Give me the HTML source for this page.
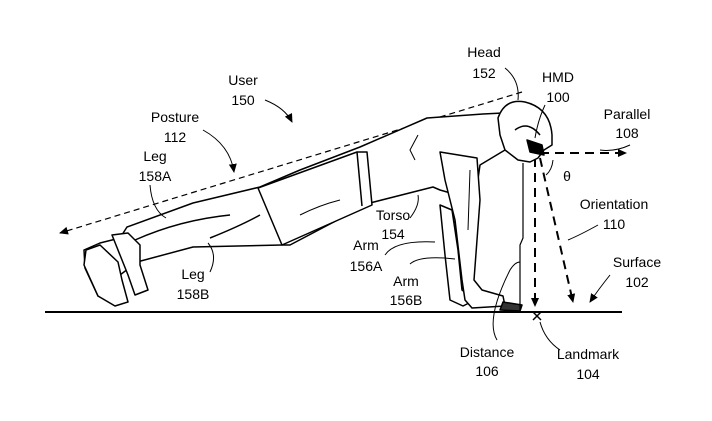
<!DOCTYPE html>
<html><head><meta charset="utf-8"><style>
html,body{margin:0;padding:0;background:#fff;}
svg{display:block;}
text{font-family:"Liberation Sans",sans-serif;font-size:14px;fill:#000;text-anchor:middle;}
</style></head><body>
<svg width="712" height="421" viewBox="0 0 712 421" xmlns="http://www.w3.org/2000/svg">
<defs>
<marker id="a" markerWidth="10" markerHeight="10" refX="8" refY="5" orient="auto" markerUnits="userSpaceOnUse"><path d="M0,1 L9,5 L0,9 z" fill="#000"/></marker>
</defs>
<line x1="45" y1="312" x2="622" y2="312" stroke="#000" stroke-width="2"/>
<line x1="522" y1="92" x2="60" y2="233" stroke="#000" stroke-width="1.2" stroke-dasharray="6,4" marker-end="url(#a)"/>
<line x1="540" y1="153" x2="626" y2="153" stroke="#000" stroke-width="2" stroke-dasharray="9,6" marker-end="url(#a)"/>
<line x1="535" y1="158" x2="535" y2="306" stroke="#000" stroke-width="2" stroke-dasharray="9,6" marker-end="url(#a)"/>
<line x1="540" y1="158" x2="573" y2="302" stroke="#000" stroke-width="2" stroke-dasharray="9,6" marker-end="url(#a)"/>
<path d="M533,312 L541,320 M541,312 L533,320" stroke="#000" stroke-width="1.5"/>
<g fill="#fff" stroke="#000" stroke-width="1.5" stroke-linejoin="round">
<!-- legs + body silhouette -->
<path d="M127,227 L193,203 L260,187 L300,170 L360,147 L427,118 L483,114 L503,113 L505,150 L480,165 L475,200 L440,190 L433,187 L370,203 L290,245 L282,245 L193,247 L137,262 L120,275 L125,300 L110,302 L98,296 L85,268 L84,250 L100,243 L120,238 z"/>
<!-- shorts -->
<path d="M258,188 L357,152 L367,152 L372,205 L282,245 z"/>
<line x1="357" y1="152" x2="362" y2="206"/>
<!-- far leg lines -->
<path d="M135,240 Q180,220 230,215" fill="none"/>
<path d="M210,238 Q240,226 260,215" fill="none"/>
<!-- feet -->
<path d="M100,245 L86,250 L84,265 L98,296 L115,306 L128,302 L122,280 L118,262 z"/>
<path d="M112,235 L128,233 L140,245 L140,265 L148,290 L135,295 L128,275 L120,255 z"/>
<!-- far arm -->
<path d="M440,205 L452,210 L458,250 L462,290 L475,300 L463,306 L450,300 L445,255 z"/>
<!-- near arm -->
<path d="M440,152 L477,158 L480,200 L474,280 L482,290 L503,296 L505,306 L472,308 L465,300 L462,280 L455,220 L445,180 z"/>
<!-- head -->
<path d="M498,118 Q505,98 525,102 Q550,108 552,135 L552,145 L544,150 L538,158 L530,162 L518,160 L505,150 L500,135 z"/>
<path d="M515,130 Q528,120 540,135" fill="none"/>
<path d="M527,140 L542,145 L544,155 L530,152 z" fill="#000"/>
<path d="M503,302 L522,305 L520,311 L500,310 z" fill="#333"/>
<!-- muscle lines -->
<path d="M418,135 L410,150 L415,160" fill="none" stroke-width="1"/>
<path d="M300,215 Q320,205 340,200" fill="none" stroke-width="1"/>
<path d="M470,170 L468,230" fill="none" stroke-width="1"/>
<path d="M523,163 L523,238 L520,245 L520,310" fill="none" stroke-width="1.2"/>
</g>
<g fill="none" stroke="#000" stroke-width="1">
<path d="M505,68 Q520,80 518,100"/>
<path d="M545,105 Q538,120 535,138"/>
<path d="M630,145 Q615,152 600,150"/>
<path d="M265,100 Q285,108 292,122" marker-end="url(#a)"/>
<path d="M203,130 Q230,145 234,172" marker-end="url(#a)"/>
<path d="M150,185 Q152,210 166,218"/>
<path d="M410,218 Q420,205 418,195"/>
<path d="M385,255 Q395,240 435,242"/>
<path d="M410,264 Q420,255 455,259"/>
<path d="M210,272 Q218,255 208,243"/>
<path d="M598,225 Q580,235 568,240"/>
<path d="M610,275 Q598,290 590,302" marker-end="url(#a)"/>
<path d="M497,340 Q485,320 510,270 Q515,262 520,262"/>
<path d="M560,350 Q545,340 540,322"/>
<path d="M553,160 Q552,170 546,175"/>
</g>
<text x="484" y="57">Head</text><text x="484" y="78">152</text>
<text x="558" y="82">HMD</text><text x="558" y="102">100</text>
<text x="627" y="119">Parallel</text><text x="627" y="138">108</text>
<text x="243" y="85">User</text><text x="243" y="105">150</text>
<text x="175" y="122">Posture</text><text x="175" y="142">112</text>
<text x="155" y="161">Leg</text><text x="155" y="181">158A</text>
<text x="393" y="220">Torso</text><text x="393" y="239">154</text>
<text x="366" y="250">Arm</text><text x="366" y="271">156A</text>
<text x="406" y="286">Arm</text><text x="406" y="305">156B</text>
<text x="193" y="279">Leg</text><text x="193" y="299">158B</text>
<text x="614" y="209">Orientation</text><text x="614" y="229">110</text>
<text x="637" y="267">Surface</text><text x="637" y="287">102</text>
<text x="567" y="181">θ</text>
<text x="487" y="357">Distance</text><text x="487" y="376">106</text>
<text x="588" y="359">Landmark</text><text x="588" y="379">104</text>
</svg>
</body></html>
